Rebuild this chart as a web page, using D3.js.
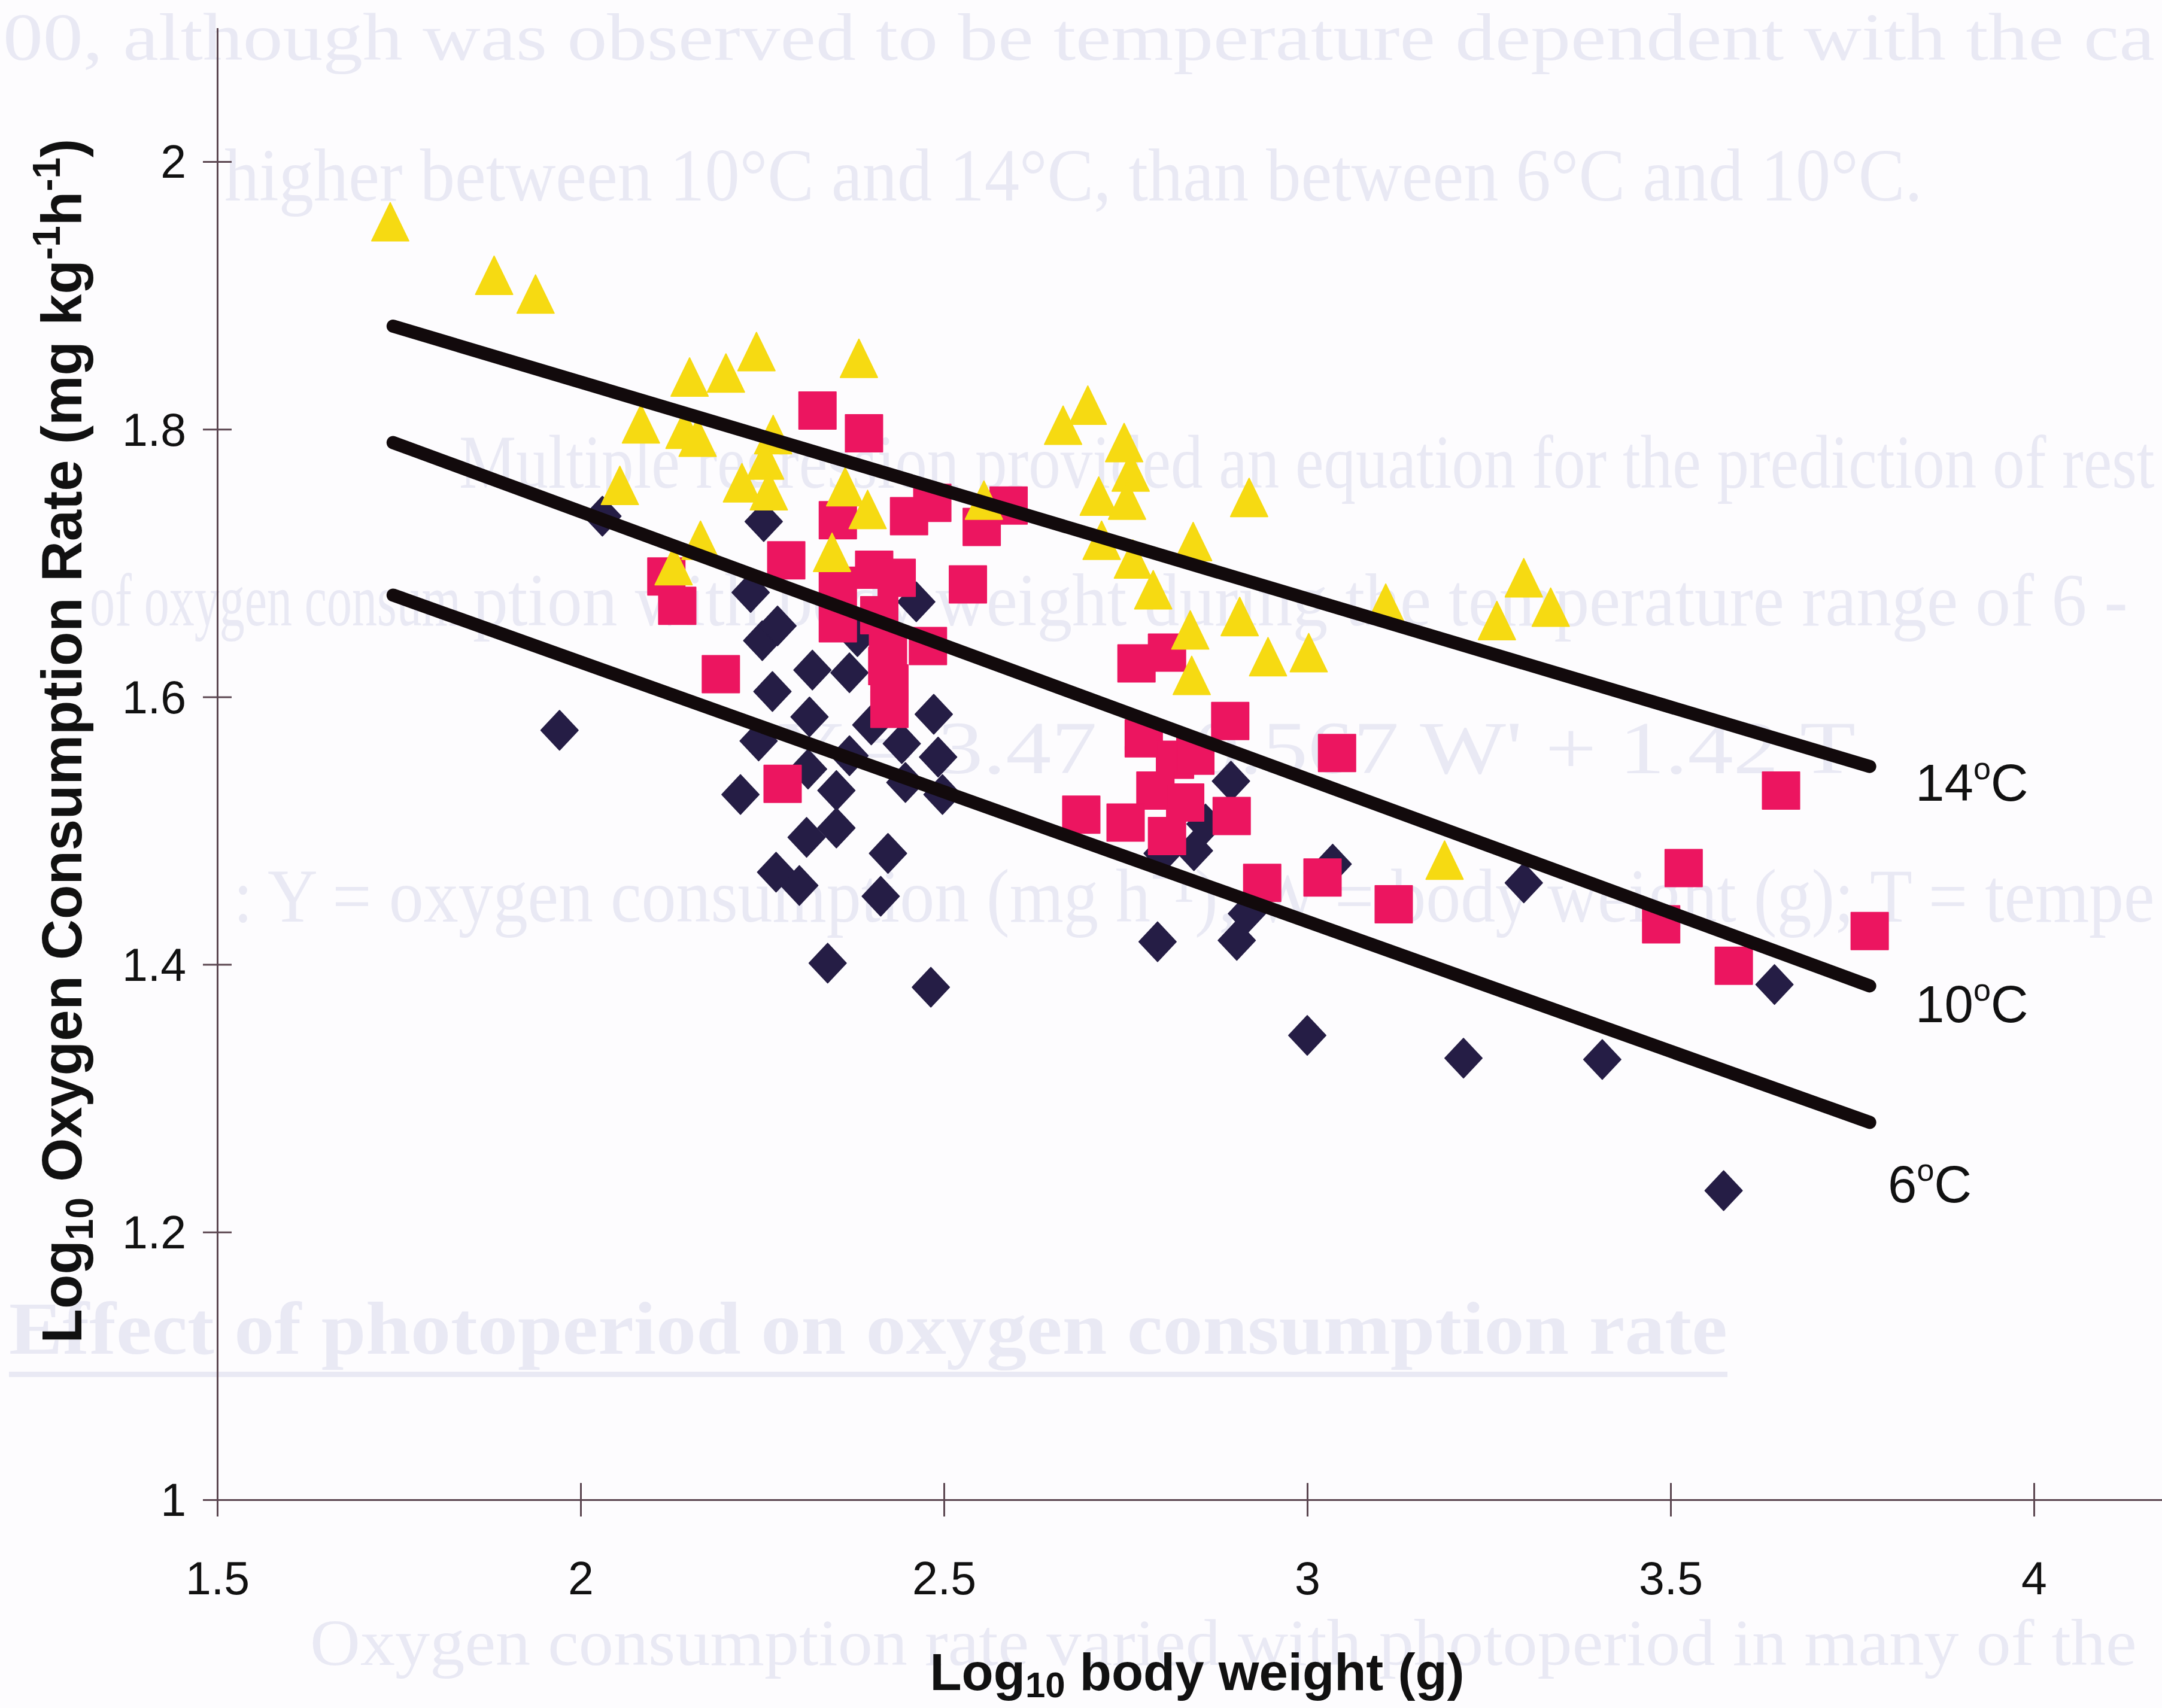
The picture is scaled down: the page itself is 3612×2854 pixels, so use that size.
<!DOCTYPE html>
<html><head><meta charset="utf-8">
<script src="https://cdnjs.cloudflare.com/ajax/libs/d3/7.8.5/d3.min.js"></script>
<style>
html,body{margin:0;padding:0;background:#fdfcfe;}
svg{display:block;}
</style></head><body>
<svg id="chart" width="3612" height="2854"></svg>
<script>
// ---------------- data ----------------
const xTickValues = [1.5, 2, 2.5, 3, 3.5, 4];
const xTickLabels = ["1.5", "2", "2.5", "3", "3.5", "4"];
const yTickValues = [1, 1.2, 1.4, 1.6, 1.8, 2];
const yTickLabels = ["1", "1.2", "1.4", "1.6", "1.8", "2"];

// 6 °C (diamonds): [log10 body weight, log10 O2 consumption]
const temp6C = [
  [1.971,1.575],[2.030,1.735],
  [2.252,1.731],[2.234,1.678],[2.250,1.642],[2.271,1.653],
  [2.319,1.620],[2.370,1.618],[2.264,1.604],[2.315,1.585],[2.486,1.587],[2.462,1.671],[2.400,1.579],
  [2.245,1.567],[2.381,1.645],
  [2.442,1.565],[2.370,1.556],[2.313,1.546],[2.492,1.555],[2.447,1.536],[2.498,1.527],[2.352,1.530],[2.220,1.527],
  [2.352,1.502],[2.311,1.495],[2.423,1.483],[2.269,1.469],[2.301,1.459],[2.413,1.451],
  [2.340,1.401],[2.482,1.383],
  [2.895,1.537],[2.860,1.505],[2.844,1.485],[2.801,1.483],
  [2.794,1.417],[2.917,1.438],[2.903,1.418],[3.000,1.347],[3.035,1.475],[3.298,1.461],
  [3.643,1.385],[3.215,1.330],[3.406,1.329],[3.573,1.231]
];

// 10 °C (squares)
const temp10C = [
  [2.326,1.814],[2.390,1.797],[2.118,1.690],[2.133,1.668],[2.283,1.702],
  [2.354,1.732],[2.354,1.683],[2.354,1.655],[2.404,1.695],[2.435,1.689],[2.452,1.735],[2.484,1.745],
  [2.589,1.743],[2.552,1.727],[2.533,1.684],
  [2.423,1.636],[2.478,1.638],[2.425,1.610],[2.425,1.591],[2.411,1.661],[2.422,1.623],
  [2.193,1.617],[2.278,1.535],
  [2.765,1.625],[2.807,1.633],[2.775,1.569],[2.818,1.553],[2.846,1.556],[2.791,1.530],[2.832,1.521],
  [2.894,1.582],[3.041,1.558],
  [2.689,1.512],[2.750,1.506],[2.807,1.496],[2.896,1.511],
  [2.938,1.461],[3.021,1.465],[3.119,1.445],
  [3.652,1.530],[3.518,1.472],[3.487,1.430],[3.587,1.399],[3.774,1.425]
];

// 14 °C (triangles)
const temp14C = [
  [1.738,1.955],[1.881,1.915],[1.938,1.901],
  [2.150,1.839],[2.200,1.842],[2.242,1.858],[2.383,1.853],
  [2.083,1.804],[2.143,1.800],[2.161,1.794],[2.265,1.796],
  [2.054,1.758],[2.254,1.777],[2.222,1.760],[2.259,1.754],
  [2.364,1.757],[2.395,1.740],[2.165,1.717],[2.128,1.698],[2.346,1.708],[2.555,1.747],
  [2.698,1.818],[2.664,1.803],[2.748,1.790],[2.757,1.768],[2.713,1.750],[2.752,1.747],
  [2.920,1.749],[2.843,1.716],[2.717,1.717],[2.760,1.703],[2.788,1.680],[2.839,1.650],
  [2.907,1.660],[2.946,1.630],[3.002,1.633],[2.841,1.616],
  [3.108,1.670],[3.298,1.689],[3.261,1.657],[3.335,1.667],[3.189,1.478]
];

// regression lines (endpoints)
const fitX = [1.742, 3.774];
const fit14C = [1.877, 1.548];
const fit10C = [1.790, 1.384];
const fit6C = [1.676, 1.282];
const fitNames = ["14", "10", "6"];

// faint text showing through the scanned page
const pageLines = [
  "00, although was observed to be temperature dependent with the ca",
  "higher between 10°C and 14°C, than between  6°C and 10°C.",
  "Multiple regression provided an equation for the prediction of rest",
  "of oxygen consum",
  "ption with body weight during the temperature range of 6 -",
  "Y = 3.47 − 0.567 W' + 1.42 T",
  ": Y = oxygen consumption (mg h⁻¹); W = body weight (g); T = tempe",
  "Effect of photoperiod on oxygen consumption rate",
  "Oxygen consumption rate varied with photoperiod in many of the"
];

// ---------------- layout (pixels) ----------------
const pageLayout = [
  {x0: 5,    x1: 3600, y: 100,  size: 112, bold: false},
  {x0: 375,  x1: 3212, y: 335,  size: 126, bold: false},
  {x0: 767,  x1: 3600, y: 815,  size: 126, bold: false},
  {x0: 150,  x1: 770,  y: 1045, size: 126, bold: false},
  {x0: 790,  x1: 3555, y: 1045, size: 126, bold: false},
  {x0: 1300, x1: 3100, y: 1292, size: 126, bold: false},
  {x0: 390,  x1: 3600, y: 1540, size: 126, bold: false},
  {x0: 15,   x1: 2886, y: 2262, size: 126, bold: true, underline: 2292},
  {x0: 518,  x1: 3570, y: 2782, size: 110, bold: false}
];
// label anchors in data units
const fitLabelPos = [[3.837, 1.5224], [3.837, 1.3569], [3.799, 1.2223]];

const W = 3612, H = 2854;
const svg = d3.select("#chart");
const FONT = "'Liberation Sans', Arial, Helvetica, sans-serif";
const SERIF = "'Liberation Serif', 'Times New Roman', serif";

svg.append("rect").attr("width", W).attr("height", H).attr("fill", "#fdfcfe");

// ghost text (scaled horizontally to its measured span)
const ghost = svg.append("g").attr("fill", "#e9e9f4").attr("font-family", SERIF);
pageLines.forEach((t, i) => {
  const L = pageLayout[i];
  const txt = ghost.append("text")
    .attr("x", 0).attr("y", 0)
    .attr("font-size", L.size)
    .attr("font-weight", L.bold ? "bold" : "normal")
    .text(t);
  const w = txt.node().getComputedTextLength() || 1;
  txt.attr("transform", `translate(${L.x0},${L.y}) scale(${(L.x1 - L.x0) / w},1)`);
  if (L.underline) {
    ghost.append("rect").attr("x", L.x0).attr("y", L.underline).attr("width", L.x1 - L.x0).attr("height", 9);
  }
});

// scales
const x = d3.scaleLinear().domain([1.5, 4.18]).range([363, 363 + 2.68 * 1214]);
const y = d3.scaleLinear().domain([1, 2.1]).range([2506, 2506 - 1.1 * 2236]);

const axisColor = "#5b4650";

// x axis
const gx = svg.append("g").attr("transform", `translate(0,${y(1)})`)
  .call(d3.axisBottom(x).tickValues(xTickValues).tickFormat((d, i) => xTickLabels[i]).tickSizeOuter(0).tickSizeInner(28));
gx.select(".domain").attr("stroke", axisColor).attr("stroke-width", 3);
gx.selectAll(".tick line").attr("stroke", axisColor).attr("stroke-width", 3).attr("y1", -28).attr("y2", 28);
gx.selectAll(".tick text").attr("y", 103).attr("dy", "0.71em")
  .attr("font-family", FONT).attr("font-size", 77).attr("fill", "#111");

// y axis
const gy = svg.append("g").attr("transform", `translate(${x(1.5)},0)`)
  .call(d3.axisLeft(y).tickValues(yTickValues).tickFormat((d, i) => yTickLabels[i]).tickSizeOuter(0).tickSizeInner(24));
gy.select(".domain").attr("stroke", axisColor).attr("stroke-width", 3);
gy.selectAll(".tick line").attr("stroke", axisColor).attr("stroke-width", 3).attr("x1", -24).attr("x2", 24);
gy.selectAll(".tick text").attr("x", -52).attr("dy", "0.35em")
  .attr("font-family", FONT).attr("font-size", 77).attr("fill", "#111");

// markers
const diamondType = { draw(ctx) { ctx.moveTo(0, -33); ctx.lineTo(31, 0); ctx.lineTo(0, 33); ctx.lineTo(-31, 0); ctx.closePath(); } };
const squareType = { draw(ctx) { ctx.moveTo(-31, -31); ctx.lineTo(31, -31); ctx.lineTo(31, 31); ctx.lineTo(-31, 31); ctx.closePath(); } };
const triangleType = { draw(ctx) { ctx.moveTo(0, -32); ctx.lineTo(31, 32); ctx.lineTo(-31, 32); ctx.closePath(); } };

function drawSeries(data, type, color) {
  svg.append("g").selectAll("path").data(data).join("path")
    .attr("d", d3.symbol().type(type))
    .attr("transform", d => `translate(${x(d[0])},${y(d[1])})`)
    .attr("fill", color).attr("stroke", color).attr("stroke-width", 2).attr("stroke-linejoin", "round");
}
drawSeries(temp6C, diamondType, "#251d45");
drawSeries(temp10C, squareType, "#ec1560");
drawSeries(temp14C, triangleType, "#f6da12");

// regression lines
const lineGen = d3.line().x(d => x(d[0])).y(d => y(d[1]));
[fit14C, fit10C, fit6C].forEach(f => {
  svg.append("path").datum(fitX.map((xv, i) => [xv, f[i]]))
    .attr("d", lineGen).attr("fill", "none").attr("stroke", "#120a0c")
    .attr("stroke-width", 22).attr("stroke-linecap", "round");
});

// line labels
fitNames.forEach((n, i) => {
  const p = fitLabelPos[i];
  const t = svg.append("text").attr("x", x(p[0])).attr("y", y(p[1]))
    .attr("font-family", FONT).attr("font-size", 87).attr("fill", "#111");
  t.append("tspan").text(n);
  t.append("tspan").attr("dy", -36).attr("font-size", 52).text("o");
  t.append("tspan").attr("dy", 36).text("C");
});

// axis titles
const xt = svg.append("text").attr("x", 2000).attr("y", 2824).attr("text-anchor", "middle")
  .attr("font-family", FONT).attr("font-weight", "bold").attr("font-size", 87).attr("fill", "#111");
xt.append("tspan").text("Log");
xt.append("tspan").attr("font-size", 60).attr("dy", 12).text("10");
xt.append("tspan").attr("dy", -12).text(" body weight (g)");

const yt = svg.append("text").attr("transform", "translate(136,1238) rotate(-90)").attr("text-anchor", "middle")
  .attr("font-family", FONT).attr("font-weight", "bold").attr("font-size", 94).attr("fill", "#111");
yt.append("tspan").text("Log");
yt.append("tspan").attr("font-size", 64).attr("dy", 19).text("10");
yt.append("tspan").attr("dy", -19).text(" Oxygen Consumption Rate (mg kg");
yt.append("tspan").attr("font-size", 64).attr("dy", -36).text("-1");
yt.append("tspan").attr("dy", 36).text("h");
yt.append("tspan").attr("font-size", 64).attr("dy", -36).text("-1");
yt.append("tspan").attr("dy", 36).text(")");
</script>
</body></html>
